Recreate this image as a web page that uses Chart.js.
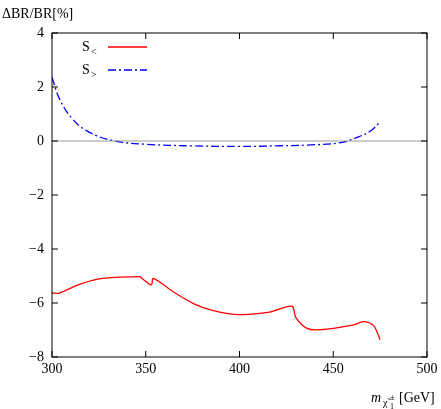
<!DOCTYPE html>
<html>
<head>
<meta charset="utf-8">
<script src="https://cdn.jsdelivr.net/npm/chart.js@4"></script>
<style>
  body { margin: 0; background: #fff; }
  #wrap { width: 441px; height: 409px; }
</style>
</head>
<body>
<div id="wrap"><canvas id="brChart"></canvas></div>
<script>
// masės (GeV) ir santykiniai pokyčiai (%)
const massLess = [300, 304, 315, 327, 347, 348, 353, 354, 365, 376, 386, 400, 416, 428, 430, 436, 443, 461, 466, 471.5, 475];
const sLess = [-5.63, -5.63, -5.30, -5.09, -5.02, -5.09, -5.33, -5.09, -5.60, -6.04, -6.28, -6.43, -6.34, -6.12, -6.53, -6.94, -6.99, -6.81, -6.69, -6.84, -7.36];
const massGreater = [300, 304, 311, 320, 333, 350, 375, 400, 420, 436, 454, 463, 470, 475];
const sGreater = [2.36, 1.56, 0.81, 0.32, 0.01, -0.12, -0.18, -0.20, -0.18, -0.15, -0.06, 0.14, 0.38, 0.71];
const xTicks = [300, 350, 400, 450, 500];
const yTicks = [4, 2, 0, -2, -4, -6, -8];

const FONT = '"Liberation Serif", "DejaVu Serif", serif';

const frame = {
    id: 'frame',
    afterDraw(chart) {
        const c = chart.ctx;
        const a = chart.chartArea;
        const xs = chart.scales.x, ys = chart.scales.y;
        c.save();
        // nulinė linija
        c.strokeStyle = '#808080';
        c.lineWidth = 0.8;
        c.beginPath();
        c.moveTo(a.left, ys.getPixelForValue(0));
        c.lineTo(a.right, ys.getPixelForValue(0));
        c.stroke();
        // rėmelis ir padalos
        c.strokeStyle = '#000';
        c.lineWidth = 1;
        c.strokeRect(a.left, a.top, a.right - a.left, a.bottom - a.top);
        c.beginPath();
        xTicks.forEach(v => {
            const px = xs.getPixelForValue(v);
            c.moveTo(px, a.bottom); c.lineTo(px, a.bottom - 6);
            c.moveTo(px, a.top); c.lineTo(px, a.top + 6);
        });
        yTicks.forEach(v => {
            const py = ys.getPixelForValue(v);
            c.moveTo(a.left, py); c.lineTo(a.left + 6, py);
            c.moveTo(a.right, py); c.lineTo(a.right - 6, py);
        });
        c.stroke();
        c.fillStyle = '#000';
        c.font = '14px ' + FONT;
        c.textAlign = 'center';
        c.textBaseline = 'top';
        xTicks.forEach(v => c.fillText(String(v), xs.getPixelForValue(v), a.bottom + 5));
        c.textAlign = 'right';
        c.textBaseline = 'middle';
        yTicks.forEach(v => c.fillText(v < 0 ? '\u2212' + (-v) : String(v), a.left - 8, ys.getPixelForValue(v)));
        // ašių pavadinimai
        c.textAlign = 'left';
        c.textBaseline = 'alphabetic';
        c.fillText('\u0394BR/BR[%]', 2, 18);
        c.font = 'italic 14px ' + FONT;
        c.fillText('m', 371, 402);
        c.font = '10px ' + FONT;
        c.fillText('\u03C7\u0303', 383, 406);
        c.font = '8px ' + FONT;
        c.fillText('\u00B1', 390, 400);
        c.fillText('1', 390, 409);
        c.font = '14px ' + FONT;
        c.fillText('[GeV]', 399, 402);
        // legenda
        const leg = [['<', 'red', []], ['>', 'blue', [8, 3, 2, 3]]];
        leg.forEach((l, i) => {
            const y = 47 + i * 23;
            c.font = '14px ' + FONT;
            c.fillStyle = '#000';
            c.fillText('S', 82, y + 4);
            c.font = '10px ' + FONT;
            c.fillText(l[0], 91, y + 8);
            c.strokeStyle = l[1];
            c.lineWidth = 1.3;
            c.setLineDash(l[2]);
            c.beginPath();
            c.moveTo(108, y); c.lineTo(147, y);
            c.stroke();
            c.setLineDash([]);
        });
        c.restore();
    }
};

new Chart(document.getElementById('brChart'), {
    type: 'line',
    data: {
        datasets: [
            {
                label: 'S<',
                data: massLess.map((m, i) => ({ x: m, y: sLess[i] })),
                borderColor: 'red',
                borderWidth: 1.3,
                pointRadius: 0,
                tension: 0.3,
                fill: false
            },
            {
                label: 'S>',
                data: massGreater.map((m, i) => ({ x: m, y: sGreater[i] })),
                borderColor: 'blue',
                borderWidth: 1.3,
                borderDash: [8, 3, 2, 3],
                pointRadius: 0,
                tension: 0.4,
                fill: false
            }
        ]
    },
    options: {
        responsive: true,
        maintainAspectRatio: false,
        animation: false,
        layout: { padding: { top: 33, right: 14, left: 0, bottom: 0 } },
        plugins: { legend: { display: false }, tooltip: { enabled: false } },
        scales: {
            x: {
                type: 'linear', min: 300, max: 500,
                grid: { display: false }, border: { display: false },
                ticks: { display: false },
                afterFit: s => { s.height = 52; }
            },
            y: {
                min: -8, max: 4,
                grid: { display: false }, border: { display: false },
                ticks: { display: false },
                afterFit: s => { s.width = 52; }
            }
        }
    },
    plugins: [frame]
});
</script>
</body>
</html>
